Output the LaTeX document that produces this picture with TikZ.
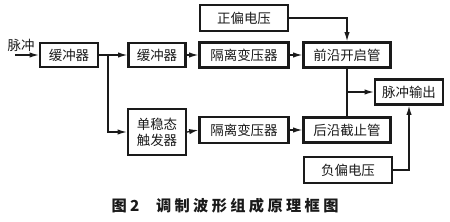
\documentclass[tikz,border=0pt]{standalone}
\usepackage{fontspec}
\usetikzlibrary{arrows.meta}
\newfontfamily\cjk{Noto Sans CJK SC}
\newfontfamily\cjkcap[LetterSpace=22]{Noto Sans CJK SC}
\definecolor{ink}{HTML}{1A1A1A}

\tikzset{
  blk/.style={draw=ink, line width=1.8pt, inner sep=0pt, font=\cjk\fontsize{11.5}{13.5}\selectfont, text=ink},
  link/.style={draw=ink, line width=1.1pt, -{Latex[length=2.8mm,width=1.6mm]}},
  wire/.style={draw=ink, line width=1.1pt}
}

\begin{document}
\begin{tikzpicture}[x=0.03cm, y=-0.03cm]
\useasboundingbox (0,0) rectangle (450,221);

% Upper branch
\node[blk, minimum width=1.74cm, minimum height=0.72cm] (buf1) at (69,55) {缓冲器};
\node[blk, minimum width=1.71cm, minimum height=0.72cm] (buf2) at (157,55) {缓冲器};
\node[blk, minimum width=2.67cm, minimum height=0.75cm] (isoA) at (244,55) {隔离变压器};
\node[blk, minimum width=2.64cm, minimum height=0.78cm] (posb) at (244,18) {正偏电压};
\node[blk, minimum width=2.61cm, minimum height=0.75cm] (lead) at (347,55) {前沿开启管};
\node[blk, minimum width=2.04cm, minimum height=0.75cm] (pout) at (409,92) {脉冲输出};

% Lower branch
\node[blk, minimum width=1.74cm, minimum height=1.38cm, align=center] (mono) at (157,132) {单稳态\\触发器};
\node[blk, minimum width=2.67cm, minimum height=0.78cm] (isoB) at (244,130) {隔离变压器};
\node[blk, minimum width=2.61cm, minimum height=0.75cm] (trail) at (347,130) {后沿截止管};
\node[blk, minimum width=2.64cm, minimum height=0.78cm] (negb) at (348,170) {负偏电压};

% Input
\coordinate (pin) at (15,55);
\node[font=\cjk\fontsize{11.5}{13.5}\selectfont, text=ink] (inlbl) at (21,45) {脉冲};

% Connectors
\draw[link] (pin) -- (buf1.west);
\draw[link] (buf1.east) -- (buf2.west);
\coordinate (split) at (108,55);
\draw[link] (split) |- (mono.west);
\draw[link] (buf2.east) -- (isoA.west);
\draw[link] (isoA.east) -- (lead.west);
\draw[link] (posb.east) -| (lead.north);
\draw[link] (mono.east) -- (isoB.west);
\draw[link] (isoB.east) -- (trail.west);
\draw[wire] (lead.south) -- (trail.north);
\coordinate (tap) at (lead.south |- pout.west);
\draw[link] (tap) -- (pout.west);
\draw[link] (negb.east) -| (pout.south);

% Caption
\node[font=\cjkcap\bfseries\fontsize{13}{15}\selectfont, text=ink] (cap) at (225,206) {图2\hspace{0.5cm}调制波形组成原理框图};

\end{tikzpicture}
\end{document}
